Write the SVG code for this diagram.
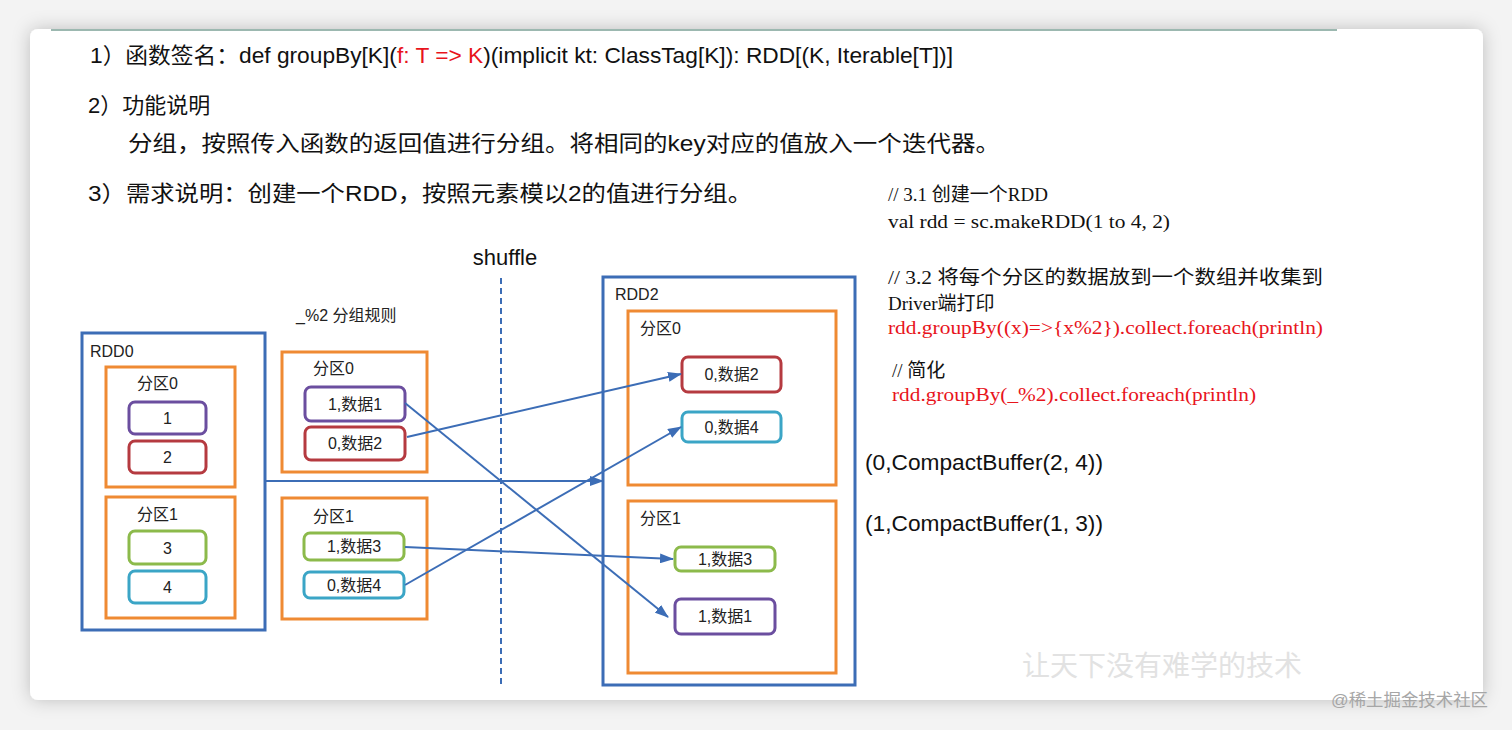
<svg xmlns="http://www.w3.org/2000/svg" width="1512" height="730" viewBox="0 0 1512 730">
<defs>
<filter id="shadow" x="-5%" y="-10%" width="110%" height="120%">
<feDropShadow dx="0" dy="0" stdDeviation="9" flood-color="#000" flood-opacity="0.22"/>
</filter>
<marker id="arr" markerWidth="14" markerHeight="10" refX="13" refY="5" orient="auto" markerUnits="userSpaceOnUse">
<path d="M0,0 L14,5 L0,10 Z" fill="#3c6db6"/>
</marker>
<style>
.sans{font-family:"Liberation Sans","Noto Sans CJK SC",sans-serif;}
.serif{font-family:"Liberation Serif","Noto Sans CJK SC",serif;}
.rdd{fill:none;stroke:#3c6db6;stroke-width:3;}
.part{fill:none;stroke:#ef8a33;stroke-width:3;}
.item{fill:#fff;stroke-width:3;}
.purple{stroke:#6b4e9f;}
.red{stroke:#b53a40;}
.green{stroke:#8cba4b;}
.cyan{stroke:#3ba5c6;}
.lbl{font-family:"Liberation Sans","Noto Sans CJK SC",sans-serif;font-size:16px;fill:#222;}
.ctr{text-anchor:middle;dominant-baseline:central;}
.conn{stroke:#3c6db6;stroke-width:2;fill:none;marker-end:url(#arr);}
</style>
</defs>
<rect x="0" y="0" width="1512" height="730" fill="#f3f3f3"/>
<rect x="30" y="29" width="1453" height="671" rx="8" fill="#fff" filter="url(#shadow)"/>
<line x1="51" y1="30" x2="1337" y2="30" stroke="#9cb8b0" stroke-width="2"/>

<g id="text-top" class="sans" fill="#111">
<text x="90" y="63" font-size="22" textLength="863" lengthAdjust="spacingAndGlyphs">1）函数签名：def groupBy[K](<tspan fill="#e8141c">f: T =&gt; K</tspan>)(implicit kt: ClassTag[K]): RDD[(K, Iterable[T])]</text>
<text x="88" y="113" font-size="22">2）功能说明</text>
<text x="128" y="151" font-size="22" textLength="872" lengthAdjust="spacingAndGlyphs">分组，按照传入函数的返回值进行分组。将相同的key对应的值放入一个迭代器。</text>
<text x="88" y="201" font-size="22" textLength="664" lengthAdjust="spacingAndGlyphs">3）需求说明：创建一个RDD，按照元素模以2的值进行分组。</text>
</g>

<g id="code" class="serif" font-size="19" fill="#111">
<text x="888" y="201">// 3.1 创建一个RDD</text>
<text x="888" y="228" textLength="282" lengthAdjust="spacingAndGlyphs">val rdd = sc.makeRDD(1 to 4, 2)</text>
<text x="888" y="284" textLength="435" lengthAdjust="spacingAndGlyphs">// 3.2 将每个分区的数据放到一个数组并收集到</text>
<text x="888" y="310">Driver端打印</text>
<text x="888" y="334" fill="#e8141c" textLength="435" lengthAdjust="spacingAndGlyphs">rdd.groupBy((x)=&gt;{x%2}).collect.foreach(println)</text>
<text x="892" y="377">// 简化</text>
<text x="892" y="401" fill="#e8141c" textLength="364" lengthAdjust="spacingAndGlyphs">rdd.groupBy(_%2).collect.foreach(println)</text>
</g>

<g id="results" class="sans" font-size="22" fill="#111">
<text x="865" y="470" textLength="238" lengthAdjust="spacingAndGlyphs">(0,CompactBuffer(2, 4))</text>
<text x="865" y="531" textLength="238" lengthAdjust="spacingAndGlyphs">(1,CompactBuffer(1, 3))</text>
</g>

<g id="shuffle">
<text x="505" y="265" class="sans" font-size="22" fill="#111" text-anchor="middle">shuffle</text>
<line x1="501" y1="278" x2="501" y2="688" stroke="#3c6db6" stroke-width="2" stroke-dasharray="6,4"/>
</g>

<g id="rule">
<text x="296" y="321" class="sans" font-size="16" fill="#222">_%2 分组规则</text>
</g>

<g id="rdd0">
<rect x="82" y="333" width="183" height="297" class="rdd"/>
<text x="90" y="357" class="lbl" font-size="15">RDD0</text>
</g>
<g id="rdd0-p0">
<rect x="106" y="367" width="129" height="120" class="part"/>
<text x="137" y="389" class="lbl">分区0</text>
</g>
<g id="rdd0-1"><rect x="129" y="402" width="77" height="32" rx="6" class="item purple"/><text x="167.5" y="418" class="lbl ctr">1</text></g>
<g id="rdd0-2"><rect x="129" y="441" width="77" height="32" rx="6" class="item red"/><text x="167.5" y="457" class="lbl ctr">2</text></g>
<g id="rdd0-p1">
<rect x="106" y="497" width="129" height="121" class="part"/>
<text x="137" y="520" class="lbl">分区1</text>
</g>
<g id="rdd0-3"><rect x="129" y="531" width="77" height="33" rx="6" class="item green"/><text x="167.5" y="548" class="lbl ctr">3</text></g>
<g id="rdd0-4"><rect x="129" y="571" width="77" height="32" rx="6" class="item cyan"/><text x="167.5" y="587" class="lbl ctr">4</text></g>

<g id="mid-p0">
<rect x="282" y="352" width="145" height="120" class="part"/>
<text x="313" y="374" class="lbl">分区0</text>
</g>
<g id="mid-1"><rect x="305" y="387" width="100" height="34" rx="6" class="item purple"/><text x="355" y="404" class="lbl ctr">1,数据1</text></g>
<g id="mid-2"><rect x="305" y="427" width="100" height="33" rx="6" class="item red"/><text x="355" y="443.5" class="lbl ctr">0,数据2</text></g>
<g id="mid-p1">
<rect x="282" y="498" width="145" height="121" class="part"/>
<text x="313" y="522" class="lbl">分区1</text>
</g>
<g id="mid-3"><rect x="304" y="533" width="100" height="27" rx="6" class="item green"/><text x="354" y="546.5" class="lbl ctr">1,数据3</text></g>
<g id="mid-4"><rect x="304" y="572" width="100" height="26" rx="6" class="item cyan"/><text x="354" y="585" class="lbl ctr">0,数据4</text></g>

<g id="rdd2">
<rect x="603" y="277" width="252" height="408" class="rdd"/>
<text x="615" y="300" class="lbl" font-size="15">RDD2</text>
</g>
<g id="rdd2-p0">
<rect x="628" y="311" width="208" height="174" class="part"/>
<text x="640" y="334" class="lbl">分区0</text>
</g>
<g id="rdd2-2"><rect x="682" y="357" width="99" height="35" rx="6" class="item red"/><text x="731.5" y="374.5" class="lbl ctr">0,数据2</text></g>
<g id="rdd2-4"><rect x="682" y="412" width="99" height="30" rx="6" class="item cyan"/><text x="731.5" y="427" class="lbl ctr">0,数据4</text></g>
<g id="rdd2-p1">
<rect x="628" y="501" width="208" height="172" class="part"/>
<text x="640" y="524" class="lbl">分区1</text>
</g>
<g id="rdd2-3"><rect x="675" y="547" width="100" height="24" rx="6" class="item green"/><text x="725" y="559" class="lbl ctr">1,数据3</text></g>
<g id="rdd2-1"><rect x="675" y="599" width="100" height="35" rx="6" class="item purple"/><text x="725" y="616.5" class="lbl ctr">1,数据1</text></g>

<g id="connectors">
<line x1="405" y1="403" x2="668" y2="617" class="conn"/>
<line x1="407" y1="437" x2="681" y2="374" class="conn"/>
<line x1="265" y1="481" x2="603" y2="481" class="conn"/>
<line x1="405" y1="585" x2="681" y2="427" class="conn"/>
<line x1="405" y1="547" x2="673" y2="559" class="conn"/>
</g>

<g id="watermark" class="sans">
<text x="1022" y="676" font-size="28" fill="#e2e2e2" textLength="280" lengthAdjust="spacingAndGlyphs">让天下没有难学的技术</text>
<text x="1331" y="706" font-size="17" fill="#a6a6a6" textLength="157" lengthAdjust="spacingAndGlyphs">@稀土掘金技术社区</text>
</g>
</svg>
